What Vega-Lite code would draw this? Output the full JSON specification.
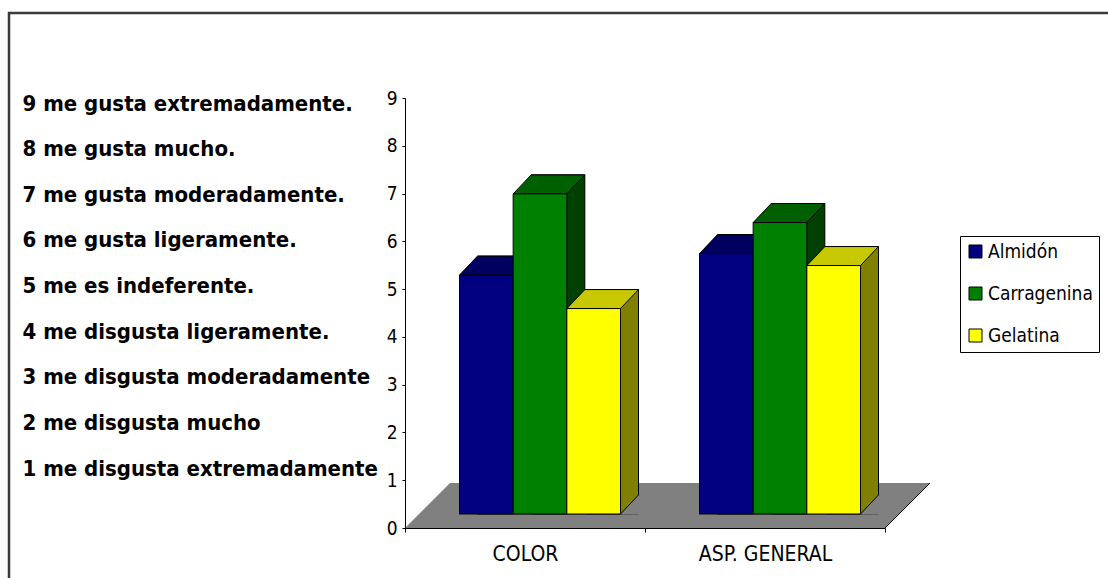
{
  "$schema": "https://vega.github.io/schema/vega-lite/v6.json",
  "width": 1109,
  "height": 575,
  "autosize": "none",
  "padding": {"left": 9, "top": 13, "right": -10, "bottom": -10},
  "background": "white",
  "config": {
    "view": {"stroke": "#3a3a3a", "strokeWidth": 2.5},
    "font": "DejaVu Sans Condensed, Liberation Sans, sans-serif",
    "axis": {"labelColor": "black", "domainColor": "black", "tickColor": "black", "grid": false, "title": null, "zindex": 1}
  },
  "datasets": {
    "puntajes": [
      {"atributo": "COLOR", "tratamiento": "Almidón", "puntaje": 5.0},
      {"atributo": "COLOR", "tratamiento": "Carragenina", "puntaje": 6.7},
      {"atributo": "COLOR", "tratamiento": "Gelatina", "puntaje": 4.3},
      {"atributo": "ASP. GENERAL", "tratamiento": "Almidón", "puntaje": 5.45},
      {"atributo": "ASP. GENERAL", "tratamiento": "Carragenina", "puntaje": 6.1},
      {"atributo": "ASP. GENERAL", "tratamiento": "Gelatina", "puntaje": 5.2}
    ],
    "escala": [
      {"nivel": 9, "descripcion": "9 me gusta extremadamente."},
      {"nivel": 8, "descripcion": "8 me gusta mucho."},
      {"nivel": 7, "descripcion": "7 me gusta moderadamente."},
      {"nivel": 6, "descripcion": "6 me gusta ligeramente."},
      {"nivel": 5, "descripcion": "5 me es indeferente."},
      {"nivel": 4, "descripcion": "4 me disgusta ligeramente."},
      {"nivel": 3, "descripcion": "3 me disgusta moderadamente"},
      {"nivel": 2, "descripcion": "2 me disgusta mucho"},
      {"nivel": 1, "descripcion": "1 me disgusta extremadamente"}
    ]
  },
  "layer": [
    {
      "data": {"name": "escala"},
      "mark": {"type": "point", "opacity": 0},
      "encoding": {
        "y": {
          "field": "descripcion", "type": "ordinal",
          "sort": {"field": "nivel", "order": "descending"},
          "scale": {"type": "point", "range": [90, 455], "padding": 0},
          "axis": {"orient": "left", "offset": -13, "domain": false, "ticks": false, "tickSize": 0, "labelPadding": 0, "labelAlign": "left", "labelBaseline": "middle", "labelFont": "DejaVu Sans Condensed, Liberation Sans, sans-serif", "labelFontWeight": "bold", "labelFontSize": 22, "labelColor": "black", "labelLimit": 600, "labelOverlap": false, "labelBound": false, "title": null}
        }
      }
    },
    {
      "data": {"name": "puntajes"},
      "layer": [
        {
          "transform": [{"filter": "datum.tratamiento === 'Almidón' && datum.atributo === 'COLOR'"}],
          "mark": {"type": "point", "shape": "M-1,0.0857L0.8286,0.0857L1,-0.0857L-0.8286,-0.0857Z", "size": 275625, "filled": true, "fill": "#808080", "strokeWidth": 0, "opacity": 1, "xOffset": 142.5, "yOffset": -22.5},
          "encoding": {
            "x": {"field": "atributo", "type": "nominal", "scale": {"domain": ["COLOR", "ASP. GENERAL"], "range": [396, 876], "paddingInner": 0, "paddingOuter": 0}},
            "y": {"datum": 0, "type": "quantitative", "scale": {"domain": [0, 9], "range": [515, 85], "nice": false}}
          }
        },
        {
          "transform": [{"filter": "datum.tratamiento === 'Almidón' && datum.atributo === 'ASP. GENERAL'"}],
          "mark": {"type": "point", "shape": "M-1,1L1,-1", "size": 2025, "filled": false, "stroke": "black", "strokeWidth": 1, "opacity": 1, "xOffset": 142.5, "yOffset": -22.5},
          "encoding": {
            "x": {"field": "atributo", "type": "nominal", "scale": {"domain": ["COLOR", "ASP. GENERAL"], "range": [396, 876], "paddingInner": 0, "paddingOuter": 0}},
            "y": {"datum": 0, "type": "quantitative", "scale": {"domain": [0, 9], "range": [515, 85], "nice": false}}
          }
        },
        {
          "mark": {"type": "bar", "stroke": "black", "strokeWidth": 1, "yOffset": -33, "y2Offset": -14},
          "encoding": {
            "x": {"field": "atributo", "type": "nominal", "scale": {"domain": ["COLOR", "ASP. GENERAL"], "range": [396, 876], "paddingInner": 0, "paddingOuter": 0}},
            "xOffset": {"field": "tratamiento", "type": "nominal", "scale": {"type": "band", "domain": ["Almidón", "Carragenina", "Gelatina"], "range": [72.5, 233.5], "paddingInner": 0, "paddingOuter": 0}},
            "y": {"field": "puntaje", "type": "quantitative", "scale": {"domain": [0, 9], "range": [515, 85], "nice": false}},
            "y2": {"datum": 0},
            "color": {"field": "tratamiento", "type": "nominal", "scale": {"domain": ["Almidón", "Carragenina", "Gelatina"], "range": ["#000040", "#004000", "#808000"]}, "legend": null}
          }
        },
        {
          "mark": {"type": "point", "shape": "M-0.947,1L0.947,-1L1.06,-1L1.06,1.06L-0.947,1.06Z", "size": 361, "filled": true, "fill": "#808080", "strokeWidth": 0, "opacity": 1, "yOffset": -23.5},
          "encoding": {
            "x": {"field": "atributo", "type": "nominal", "scale": {"domain": ["COLOR", "ASP. GENERAL"], "range": [396, 876], "paddingInner": 0, "paddingOuter": 0}},
            "xOffset": {"field": "tratamiento", "type": "nominal", "scale": {"type": "band", "domain": ["Almidón", "Carragenina", "Gelatina"], "range": [90.33, 251.33], "paddingInner": 0, "paddingOuter": 0}},
            "y": {"datum": 0, "type": "quantitative", "scale": {"domain": [0, 9], "range": [515, 85], "nice": false}}
          }
        },
        {
          "mark": {"type": "point", "shape": "M-0.947,1L0.947,-1", "size": 361, "filled": false, "stroke": "black", "strokeWidth": 1, "opacity": 1, "yOffset": -23.5},
          "encoding": {
            "x": {"field": "atributo", "type": "nominal", "scale": {"domain": ["COLOR", "ASP. GENERAL"], "range": [396, 876], "paddingInner": 0, "paddingOuter": 0}},
            "xOffset": {"field": "tratamiento", "type": "nominal", "scale": {"type": "band", "domain": ["Almidón", "Carragenina", "Gelatina"], "range": [90.33, 251.33], "paddingInner": 0, "paddingOuter": 0}},
            "y": {"datum": 0, "type": "quantitative", "scale": {"domain": [0, 9], "range": [515, 85], "nice": false}}
          }
        },
        {
          "mark": {"type": "point", "shape": "M-1,0.2651L0.4977,0.2651L1,-0.2651L-0.4977,-0.2651Z", "size": 5136, "filled": true, "stroke": "black", "strokeWidth": 1, "opacity": 1, "yOffset": -23.5},
          "encoding": {
            "x": {"field": "atributo", "type": "nominal", "scale": {"domain": ["COLOR", "ASP. GENERAL"], "range": [396, 876], "paddingInner": 0, "paddingOuter": 0}},
            "xOffset": {"field": "tratamiento", "type": "nominal", "scale": {"type": "band", "domain": ["Almidón", "Carragenina", "Gelatina"], "range": [63.5, 224.5], "paddingInner": 0, "paddingOuter": 0}},
            "y": {"field": "puntaje", "type": "quantitative", "scale": {"domain": [0, 9], "range": [515, 85], "nice": false}},
            "color": {"field": "tratamiento", "type": "nominal", "scale": {"domain": ["Almidón", "Carragenina", "Gelatina"], "range": ["#00005e", "#006000", "#c8c800"]}, "legend": null}
          }
        },
        {
          "mark": {"type": "bar", "stroke": "black", "strokeWidth": 1, "yOffset": -14, "y2Offset": -14},
          "encoding": {
            "x": {
              "field": "atributo", "type": "nominal",
              "scale": {"domain": ["COLOR", "ASP. GENERAL"], "range": [396, 876], "paddingInner": 0, "paddingOuter": 0},
              "axis": {"orient": "bottom", "offset": -60, "tickBand": "extent", "tickSize": 4, "labelPadding": 22, "labelAngle": 0, "labelAlign": "center", "labelFont": "DejaVu Sans Condensed, Liberation Sans, sans-serif", "labelFontSize": 21, "labelColor": "black", "domainColor": "black", "tickColor": "black", "title": null, "zindex": 1}
            },
            "xOffset": {"field": "tratamiento", "type": "nominal", "scale": {"type": "band", "domain": ["Almidón", "Carragenina", "Gelatina"], "range": [54.5, 215.5], "paddingInner": 0, "paddingOuter": 0}},
            "y": {
              "field": "puntaje", "type": "quantitative",
              "scale": {"domain": [0, 9], "range": [515, 85], "nice": false},
              "axis": {"orient": "left", "offset": -396, "values": [0, 1, 2, 3, 4, 5, 6, 7, 8, 9], "format": "d", "tickSize": 3, "labelPadding": 5, "labelFont": "DejaVu Sans Condensed, Liberation Sans, sans-serif", "labelFontSize": 19, "labelColor": "black", "domainColor": "black", "tickColor": "black", "grid": false, "title": null, "zindex": 1}
            },
            "y2": {"datum": 0},
            "color": {
              "field": "tratamiento", "type": "nominal",
              "scale": {"domain": ["Almidón", "Carragenina", "Gelatina"], "range": ["#000080", "#008000", "#ffff00"]},
              "legend": {"orient": "none", "legendX": 951, "legendY": 223, "title": null, "symbolType": "square", "symbolSize": 169, "symbolStrokeColor": "black", "symbolStrokeWidth": 1, "symbolOpacity": 1, "labelFont": "DejaVu Sans Condensed, Liberation Sans, sans-serif", "labelFontSize": 19, "labelColor": "black", "labelOffset": 3, "labelLimit": 300, "rowPadding": 22, "padding": 6, "strokeColor": "black", "fillColor": "white"}
            }
          }
        }
      ],
      "resolve": {"scale": {"xOffset": "independent", "color": "independent"}}
    }
  ],
  "resolve": {"scale": {"y": "independent"}, "axis": {"y": "independent"}}
}
